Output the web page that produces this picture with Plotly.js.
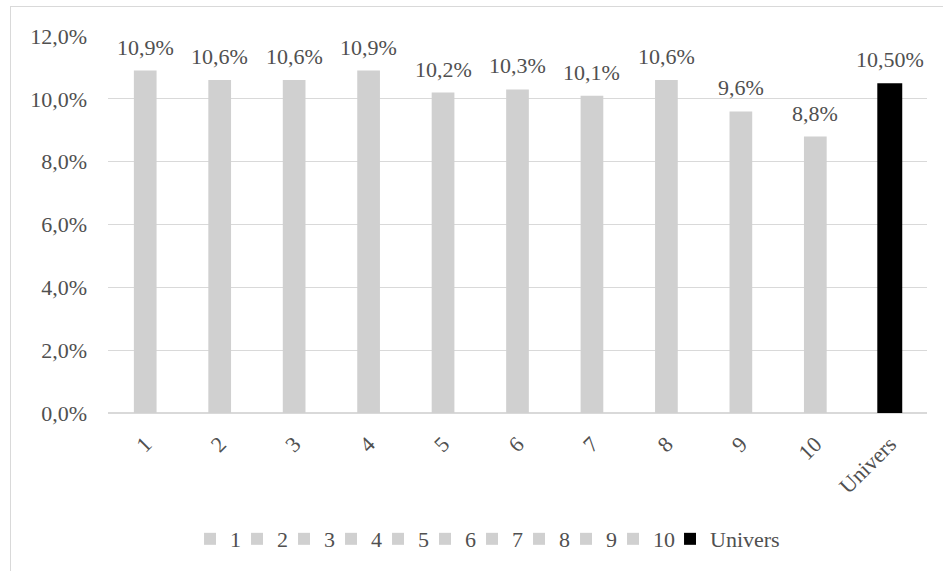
<!DOCTYPE html>
<html>
<head>
<meta charset="utf-8">
<script src="https://cdn.plot.ly/plotly-3.0.1.min.js"></script>
<style>
html,body{margin:0;padding:0;background:#fff;}
#wrap{position:relative;width:943px;height:571px;overflow:hidden;}
#frame{position:absolute;left:10px;top:6px;width:960px;height:600px;border:1.5px solid #d9d9d9;box-sizing:border-box;pointer-events:none;}
#chart{position:absolute;left:0;top:0;width:943px;height:571px;}
</style>
</head>
<body>
<div id="wrap"><div id="chart"></div><div id="frame"></div></div>
<script>
const categories = ['1','2','3','4','5','6','7','8','9','10','Univers'];
const values = [10.9, 10.6, 10.6, 10.9, 10.2, 10.3, 10.1, 10.6, 9.6, 8.8, 10.5];
const labels = ['10,9%','10,6%','10,6%','10,9%','10,2%','10,3%','10,1%','10,6%','9,6%','8,8%','10,50%'];
const colors = ['#d0d0d0','#d0d0d0','#d0d0d0','#d0d0d0','#d0d0d0','#d0d0d0','#d0d0d0','#d0d0d0','#d0d0d0','#d0d0d0','#000000'];

const FONT = 'Liberation Serif, Times New Roman, serif';
const TXT = '#505050';
const FS = 22;

const traces = categories.map((c, i) => ({
  type: 'bar',
  name: c,
  x: [c],
  y: [values[i]],
  width: i === categories.length - 1 ? 0.335 : 0.305,
  marker: {color: colors[i]},
  hoverinfo: 'skip',
  legendwidth: c.length === 1 ? 2 : (c.length === 2 ? 12 : undefined)
}));

const annotations = categories.map((c, i) => ({
  x: i, y: values[i], xref: 'x', yref: 'y',
  text: labels[i], showarrow: false,
  yanchor: 'bottom', yshift: 9,
  font: {family: FONT, size: FS, color: TXT}
}));

const layout = {
  width: 943, height: 571,
  margin: {l: 108, r: 16, t: 36, b: 158},
  paper_bgcolor: 'rgba(0,0,0,0)', plot_bgcolor: '#fff',
  barmode: 'overlay',
  separators: ',.',
  font: {family: FONT, size: FS, color: TXT},
  xaxis: {
    type: 'category', categoryorder: 'array', categoryarray: categories,
    tickangle: -45, showgrid: false, showline: false, zeroline: false,
    ticks: '', ticklabelstandoff: 13, tickfont: {family: FONT, size: FS, color: TXT}
  },
  yaxis: {
    range: [0, 12], dtick: 2, tickformat: '.1f', ticksuffix: '%',
    showgrid: true, gridcolor: '#d9d9d9', gridwidth: 1.3,
    zeroline: true, zerolinecolor: '#d9d9d9', zerolinewidth: 1.3,
    showline: false, ticks: '', ticklabelstandoff: 20,
    tickfont: {family: FONT, size: FS, color: TXT}
  },
  showlegend: true,
  legend: {
    orientation: 'h', xref: 'container', yref: 'container',
    x: 0.517, xanchor: 'center', y: 0.056, yanchor: 'middle',
    font: {family: FONT, size: FS, color: TXT},
    itemclick: false, itemdoubleclick: false, bgcolor: 'rgba(0,0,0,0)'
  },
  annotations: annotations
};

Plotly.newPlot('chart', traces, layout, {staticPlot: true, displayModeBar: false});
</script>
</body>
</html>
